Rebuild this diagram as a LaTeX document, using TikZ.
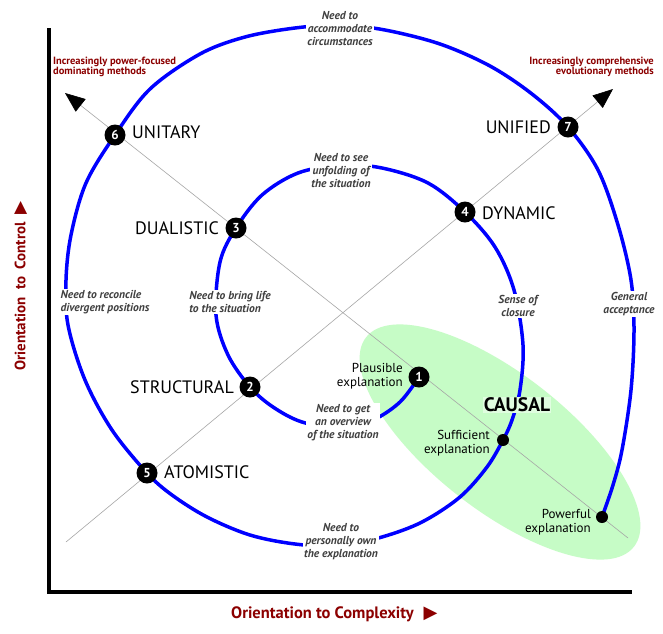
\documentclass[tikz,border=0pt]{standalone}
\usepackage{fontspec}
\setmainfont{PT Sans}
\newfontfamily\symfont{DejaVu Sans}
\usetikzlibrary{arrows.meta}
\definecolor{darkred}{RGB}{140,0,0}
\definecolor{notegray}{RGB}{64,64,64}
\definecolor{causalgreen}{RGB}{198,252,198}
\definecolor{spiralblue}{RGB}{0,0,255}
\tikzset{
  num/.style={circle,fill=black,text=white,inner sep=0pt,minimum size=21pt,font=\bfseries\fontsize{13}{13}\selectfont},
  dot/.style={circle,fill=black,inner sep=0pt,minimum size=12pt},
  stage/.style={inner sep=1pt,font=\fontsize{18}{18}\selectfont},
  need/.style={fill=white,inner sep=1.5pt,align=center,text=notegray,font=\bfseries\itshape\fontsize{11.5}{13}\selectfont},
  expl/.style={align=right,inner sep=1pt,font=\fontsize{13}{13.5}\selectfont},
  trend/.style={text=darkred,inner sep=1pt,font=\bfseries\fontsize{10.5}{10}\selectfont},
  axislabel/.style={text=darkred,inner sep=0pt,font=\bfseries\fontsize{15}{15}\selectfont},
  diag/.style={gray!70,line width=0.6pt},
  spiral/.style={spiralblue,line width=3.5pt,line cap=round}
}
\begin{document}
\begin{tikzpicture}[x=1pt,y=-1pt]
\useasboundingbox[fill=white] (0,0) rectangle (663,633);
\fill[causalgreen,rotate around={-38:(500,442)}] (500,442) ellipse[x radius=170,y radius=68];
\coordinate (nw) at (65,93);
\coordinate (se) at (628,538);
\coordinate (sw) at (66,542);
\coordinate (ne) at (613,89);
\draw[diag,-{Triangle[length=20pt,width=16pt,color=black]}] (se) -- (nw);
\draw[diag,-{Triangle[length=20pt,width=16pt,color=black]}] (sw) -- (ne);
\coordinate (top) at (49,28);
\coordinate (corner) at (49,592);
\coordinate (right) at (632,592);
\draw[line width=4pt] (top) -- (corner) -- (right);
\coordinate (c1) at (419,377);
\coordinate (c2) at (250,387);
\coordinate (c3) at (236,228);
\coordinate (c4) at (465,212);
\coordinate (c5) at (147,473);
\coordinate (c6) at (115,135);
\coordinate (c7) at (568,127);
\coordinate (cs) at (503,440);
\coordinate (cp) at (602,517);
\draw[spiral] plot[smooth,tension=0.55] coordinates {
  (c1) (400,402) (373,420) (340,428) (302,422) (273,407) (c2)
  (228,355) (216,315) (220,262) (c3)
  (262,195) (298,173) (341,165) (382,168) (428,183) (c4)
  (495,247) (514,290) (523,345) (520,390) (512,420) (cs)
  (487,467) (460,497) (422,522) (382,537) (340,546) (295,544) (250,535) (207,517) (172,495) (c5)
  (112,430) (85,380) (68,325) (66,280) (71,235) (86,183) (c6)
  (150,89) (200,54) (245,37) (295,28) (340,25) (385,30) (440,44) (490,66) (532,94) (c7)
  (598,170) (618,225) (631,280) (634,330) (631,390) (622,450) (613,485) (cp)};
\node[need] (t1) at (340,29) {Need to\\accommodate\\circumstances};
\node[need] (t2) at (341,171) {Need to see\\unfolding of\\the situation};
\node[need,align=left] (t3) at (105,302) {Need to reconcile\\divergent positions};
\node[need,align=left] (t4) at (230,302) {Need to bring life\\to the situation};
\node[need] (t5) at (343,423) {Need to get\\an overview\\of the situation};
\node[need] (t6) at (518,306) {Sense of\\closure};
\node[need] (t7) at (629,304) {General\\acceptance};
\node[need] (t8) at (341,542) {Need to\\personally own\\the explanation};
\node[fill=causalgreen!55!white,inner sep=1pt,font=\bfseries\fontsize{19.5}{19.5}\selectfont] (causal) at (517,405) {CAUSAL};
\node[num] (n1) at (c1) {1};
\node[num] (n2) at (c2) {2};
\node[num] (n3) at (c3) {3};
\node[num] (n4) at (c4) {4};
\node[num] (n5) at (c5) {5};
\node[num] (n6) at (c6) {6};
\node[num] (n7) at (c7) {7};
\node[dot] (suff) at (cs) {};
\node[dot] (pow) at (cp) {};
\node[stage,anchor=west] (unitary) at (131,132) {UNITARY};
\node[stage,anchor=east] (dualistic) at (220,228) {DUALISTIC};
\node[stage,anchor=east] (structural) at (235,387) {STRUCTURAL};
\node[stage,anchor=west] (atomistic) at (163,472) {ATOMISTIC};
\node[stage,anchor=east] (unified) at (552,127) {UNIFIED};
\node[stage,anchor=west] (dynamic) at (481,213) {DYNAMIC};
\node[expl,anchor=east] (plaus) at (404,376) {Plausible\\explanation};
\node[expl,anchor=east] (sufftext) at (491,443) {Sufficient\\explanation};
\node[expl,anchor=east] (powtext) at (592,522) {Powerful\\explanation};
\node[trend,align=left,anchor=west] (power) at (52,67) {Increasingly power-focused\\dominating methods};
\node[trend,align=right,anchor=east] (evol) at (655,67) {Increasingly comprehensive\\evolutionary methods};
\node[axislabel,anchor=west,font=\bfseries\fontsize{16.5}{16.5}\selectfont] (xlabel) at (231,614) {Orientation to Complexity\hspace{10pt}{\symfont\fontsize{18}{18}\selectfont ▶}};
\node[axislabel,anchor=west,rotate=90] (ylabel) at (21,371) {Orientation\ \ to\ \ Control\hspace{8pt}{\symfont\fontsize{17}{17}\selectfont ▶}};
\end{tikzpicture}
\end{document}
